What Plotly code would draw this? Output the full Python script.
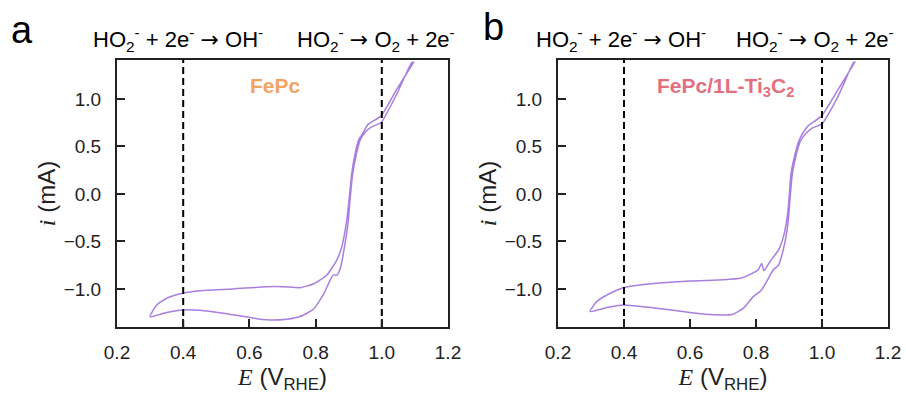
import plotly.graph_objects as go

# ---------------- data (E in V vs RHE, i in mA) ----------------
# Panel a: FePc  — anodic (upper) branch then cathodic (lower) branch
a_E_fwd = [0.300, 0.320, 0.350, 0.398, 0.451, 0.551, 0.652, 0.702, 0.753, 0.793, 0.834, 0.864, 0.879,
           0.894, 0.900, 0.909, 0.918, 0.929, 0.944, 0.959, 0.998, 1.045, 1.097]
a_i_fwd = [-1.29, -1.168, -1.097, -1.045, -1.018, -1.000, -0.976, -0.976, -0.986, -0.948, -0.853, -0.696, -0.557,
           -0.277, -0.10, 0.21, 0.40, 0.56, 0.647, 0.735, 0.822, 1.10, 1.39]
a_E_rev = [1.097, 1.090, 1.045, 0.998, 0.969, 0.949, 0.934, 0.922, 0.912, 0.903, 0.899, 0.889, 0.876,
           0.865, 0.853, 0.844, 0.823, 0.793, 0.753, 0.713, 0.652, 0.551, 0.451, 0.398, 0.350, 0.300]
a_i_rev = [1.39, 1.38, 1.05, 0.752, 0.707, 0.647, 0.56, 0.40, 0.21, -0.10, -0.277, -0.521, -0.766,
           -0.853, -0.853, -0.906, -1.063, -1.213, -1.290, -1.318, -1.325, -1.272, -1.225, -1.220, -1.248, -1.29]

# Panel b: FePc/1L-Ti3C2
b_E_fwd = [0.297, 0.317, 0.348, 0.398, 0.448, 0.499, 0.600, 0.701, 0.752, 0.782, 0.807, 0.817, 0.824,
           0.842, 0.868, 0.883, 0.893, 0.899, 0.906, 0.917, 0.930, 0.943, 0.958, 0.999, 1.049, 1.100]
b_i_fwd = [-1.238, -1.133, -1.063, -0.986, -0.958, -0.940, -0.916, -0.903, -0.888, -0.846, -0.794, -0.731, -0.808,
           -0.714, -0.592, -0.452, -0.277, -0.10, 0.21, 0.40, 0.56, 0.647, 0.717, 0.822, 1.10, 1.39]
b_E_rev = [1.100, 1.095, 1.049, 0.999, 0.974, 0.954, 0.935, 0.921, 0.910, 0.902, 0.898, 0.885, 0.868,
           0.852, 0.817, 0.792, 0.762, 0.731, 0.671, 0.600, 0.499, 0.398, 0.348, 0.297]
b_i_rev = [1.39, 1.38, 1.03, 0.735, 0.70, 0.647, 0.56, 0.40, 0.21, -0.10, -0.277, -0.55, -0.75,
           -0.80, -1.01, -1.08, -1.202, -1.265, -1.272, -1.248, -1.202, -1.168, -1.195, -1.238]

marker_E = [0.4, 1.0]          # dashed reference potentials
x_ticks = [0.2, 0.4, 0.6, 0.8, 1.0, 1.2]
y_ticks = [-1.0, -0.5, 0.0, 0.5, 1.0]
x_range = [0.2, 1.2]
y_range = [-1.40, 1.41]

curve_color = "#a97fe0"
W, H = 906, 396

fig = go.Figure()
for E_f, i_f, E_r, i_r, xa, ya in [
    (a_E_fwd, a_i_fwd, a_E_rev, a_i_rev, "x", "y"),
    (b_E_fwd, b_i_fwd, b_E_rev, b_i_rev, "x2", "y2"),
]:
    fig.add_trace(go.Scatter(x=E_f + E_r, y=i_f + i_r, mode="lines", xaxis=xa, yaxis=ya,
                             line=dict(color=curve_color, width=1.5, shape="spline", smoothing=0.5),
                             showlegend=False, hoverinfo="skip"))
    for e in marker_E:
        fig.add_trace(go.Scatter(x=[e, e], y=y_range, mode="lines", xaxis=xa, yaxis=ya,
                                 line=dict(color="black", width=2, dash="7px,4px"),
                                 showlegend=False, hoverinfo="skip"))

font_sans = "Liberation Sans, Arial, sans-serif"
serif = "Liberation Serif, Times New Roman, serif"

axis_common = dict(showline=True, linecolor="#222", linewidth=2, mirror=True, automargin=False,
                   ticks="inside", ticklen=8, tickwidth=1.8, tickcolor="#222",
                   showgrid=False, zeroline=False,
                   tickfont=dict(family=font_sans, size=19, color="#222"))

def xax(domain):
    return dict(axis_common, domain=domain, range=x_range, tickvals=x_ticks, tickformat=".1f",
                ticklabelstandoff=7,
                title=dict(text='<span style="font-family:%s"><i>E</i></span> (V<sub>RHE</sub>)' % serif,
                           font=dict(family=font_sans, size=24, color="#222"), standoff=0))

def yax(domain, anchor):
    return dict(axis_common, domain=domain, range=y_range, tickvals=y_ticks, tickformat=".1f",
                ticklabelstandoff=10, anchor=anchor,
                title=dict(text='<span style="font-family:%s"><i>i</i></span> (mA)' % serif,
                           font=dict(family=font_sans, size=24, color="#222"), standoff=1))

ydom = [1 - 327 / H, 1 - 60 / H]
fig.update_layout(
    width=W, height=H, autosize=False,
    margin=dict(l=0, r=0, t=0, b=0, autoexpand=False),
    paper_bgcolor="white", plot_bgcolor="white",
    xaxis=dict(xax([117 / W, 448 / W]), anchor="y"),
    yaxis=yax(ydom, "x"),
    xaxis2=dict(xax([558 / W, 888 / W]), anchor="y2"),
    yaxis2=yax(ydom, "x2"),
)

def px_ann(text, x, y, size, color="black", bold=False, xanchor="center"):
    fig.add_annotation(text=("<b>%s</b>" % text) if bold else text, x=x / W, y=1 - y / H,
                       xref="paper", yref="paper", showarrow=False, xanchor=xanchor, yanchor="middle",
                       font=dict(family=font_sans, size=size, color=color))

arrow = '<span style="font-family:DejaVu Sans">→</span>'
r1 = "HO<sub>2</sub><sup>-</sup> + 2e<sup>-</sup> %s OH<sup>-</sup>" % arrow
r2 = "HO<sub>2</sub><sup>-</sup> %s O<sub>2</sub> + 2e<sup>-</sup>" % arrow
px_ann(r1, 178, 40, 22)
px_ann(r2, 376, 40, 22)
px_ann(r1, 621, 40, 22)
px_ann(r2, 815, 40, 22)
px_ann("a", 22, 30, 38)
px_ann("b", 493, 27, 38)
px_ann("FePc", 275, 85, 21, color="#f2a463", bold=True)
px_ann("FePc/1L-Ti<sub>3</sub>C<sub>2</sub>", 725, 87, 21, color="#e4707f", bold=True)

fig.write_html("out.html", config={"displayModeBar": False},
               post_script="document.body.style.margin='0';document.body.style.overflow='hidden';")
